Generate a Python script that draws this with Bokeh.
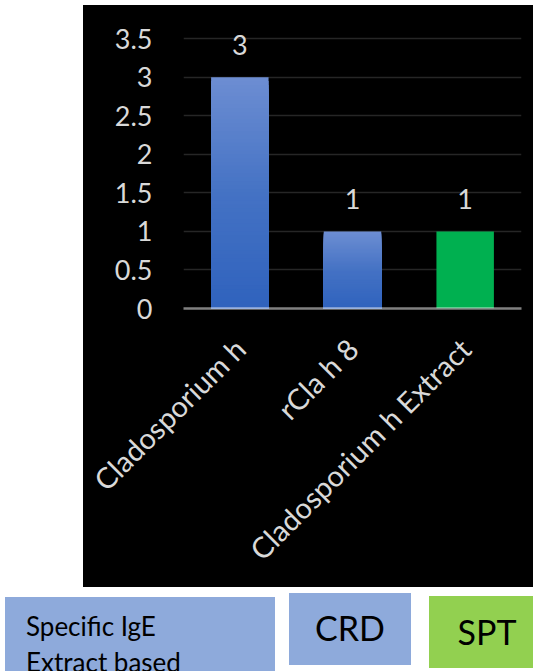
import numpy as np
from bokeh.plotting import figure
from bokeh.models import ColumnDataSource, FixedTicker, LabelSet, Range1d, FactorRange, Div
from bokeh.layouts import column
from bokeh.embed import file_html
from bokeh.resources import INLINE
from bokeh.core.properties import value

# Number of positive results per test
allergens = ["Cladosporium h", "rCla h 8", "Cladosporium h Extract"]
positives = [3, 1, 1]
y_ticks = [0, 0.5, 1, 1.5, 2, 2.5, 3, 3.5]
y_tick_labels = ["0", "0.5", "1", "1.5", "2", "2.5", "3", "3.5"]

# Test methods shown as coloured keys under the chart
methods = [["Specific IgE", "Extract based"], ["CRD"], ["SPT"]]

FONT = "Lato"
LABEL_COLOR = "#d9d9d9"
BLUE_STOPS = [(47, 98, 189), (68, 114, 196), (108, 141, 210)]  # bottom, middle, top
GREEN = "#00b050"
bar_styles = ["gradient", "gradient", "solid"]


def blue_at(f):
    """Colour of the vertical blue gradient at fraction f (0 = bottom, 1 = top)."""
    if f <= 0.5:
        a, b, t = BLUE_STOPS[0], BLUE_STOPS[1], f / 0.5
    else:
        a, b, t = BLUE_STOPS[1], BLUE_STOPS[2], (f - 0.5) / 0.5
    return "#%02x%02x%02x" % tuple(int(round(a[i] + (b[i] - a[i]) * t)) for i in range(3))


# headroom above the top tick so the value labels are not clipped
p = figure(
    x_range=FactorRange(factors=allergens, range_padding=0),
    y_range=Range1d(0, 3.8),
    width=450, height=582,
    output_backend="svg", toolbar_location=None,
    min_border_left=100, min_border_right=12,
    min_border_top=10, min_border_bottom=279,
    background_fill_color="black", border_fill_color="black",
    outline_line_color=None,
    margin=(5, 0, 0, 83),
    styles={"background-color": "black"},
)

# Gradient bars: stacked from tallest to shortest so each layer paints over the last
N = 60
gx, gtop, gcol = [], [], []
sx, stop = [], []
for name, v, style in zip(allergens, positives, bar_styles):
    if style == "gradient":
        for i in range(N):
            f = 1 - i / N
            gx.append(name)
            gtop.append(v * f)
            gcol.append(blue_at(f))
    else:
        sx.append(name)
        stop.append(v)

p.vbar(x=gx, bottom=0, top=gtop, width=0.51, fill_color=gcol, line_color=None)
p.vbar(x=sx, bottom=0, top=stop, width=0.51, fill_color=GREEN, line_color=None)

labels = ColumnDataSource(dict(x=allergens, y=positives, t=[str(v) for v in positives]))
p.add_layout(LabelSet(
    x="x", y="y", text="t", source=labels, y_offset=22,
    text_align="center", text_baseline="alphabetic",
    text_color=LABEL_COLOR, text_font=value(FONT), text_font_size="27px",
))

# Axes and grid
p.xgrid.grid_line_color = None
p.ygrid.grid_line_color = "#262626"
p.ygrid.grid_line_width = 1.5
p.ygrid.ticker = FixedTicker(ticks=y_ticks)

p.yaxis.ticker = FixedTicker(ticks=y_ticks)
p.yaxis.major_label_overrides = {t: s for t, s in zip(y_ticks, y_tick_labels)}
p.yaxis.axis_line_color = None
p.yaxis.major_tick_line_color = None
p.yaxis.minor_tick_line_color = None
p.yaxis.major_tick_out = 0
p.yaxis.minor_tick_out = 0
p.yaxis.major_label_standoff = 31
p.yaxis.major_label_text_color = LABEL_COLOR
p.yaxis.major_label_text_font = FONT
p.yaxis.major_label_text_font_size = "27px"

p.xaxis.axis_line_color = "white"
p.xaxis.axis_line_alpha = 0.5
p.xaxis.axis_line_width = 2.5
p.xaxis.major_tick_line_color = None
p.xaxis.minor_tick_line_color = None
p.xaxis.major_tick_out = 0
p.xaxis.minor_tick_out = 0
p.xaxis.major_label_orientation = np.pi / 4
p.xaxis.major_label_standoff = 35
p.xaxis.major_label_text_color = LABEL_COLOR
p.xaxis.major_label_text_font = FONT
p.xaxis.major_label_text_font_size = "29px"

# Key boxes for the test methods (positions relative to the strip below the chart)
box_left = [5, 289, 429]
box_width = [270, 122, 104]
box_top = [10, 6, 9]
box_height = [74, 72, 72]
box_fill = ["#8eaadb", "#8eaadb", "#92d050"]
text_pad_left = [21, 0, 0]
text_pad_top = [11, 11, 12]
text_size = [26, 34, 34]
text_align = ["left", "center", "center"]
text_shift = [0, 0, 6]

parts = []
for lines, l, w, t, h, c, pl, pt, fs, ta, sh in zip(
        methods, box_left, box_width, box_top, box_height, box_fill,
        text_pad_left, text_pad_top, text_size, text_align, text_shift):
    inner = "<br>".join(lines)
    parts.append(
        f'<div style="position:absolute;left:{l}px;top:{t}px;width:{w}px;height:{h}px;'
        f'background:{c};overflow:visible;">'
        f'<div style="position:absolute;left:{pl + sh}px;top:{pt}px;'
        f'width:{w - pl if ta == "left" else w}px;text-align:{ta};'
        f'font-family:{FONT};font-size:{fs}px;line-height:{round(fs * 1.4)}px;color:black;'
        f'white-space:nowrap;">{inner}</div></div>'
    )
key_html = (
    '<div style="position:relative;width:533px;height:84px;overflow:hidden;background:white;">'
    + "".join(parts) + "</div>"
)
key = Div(text=key_html, width=533, height=84, margin=(0, 0, 0, 0))

layout = column(p, key, spacing=0)
open("out.html", "w").write(file_html(layout, INLINE))
